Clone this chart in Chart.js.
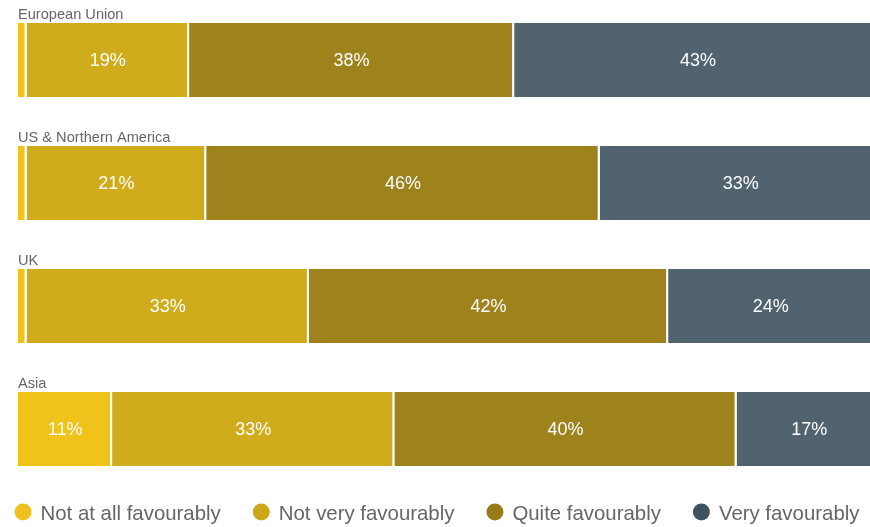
<!DOCTYPE html>
<html>
<head>
<meta charset="utf-8">
<title>Favourability by region</title>
<script src="https://cdn.jsdelivr.net/npm/chart.js@4.4.1/dist/chart.umd.min.js"></script>
<style>
  html, body { margin: 0; padding: 0; background: #ffffff; }
  #wrap { width: 870px; height: 527px; position: relative; overflow: hidden; }
</style>
</head>
<body>
<div id="wrap"><canvas id="chart" width="870" height="527"></canvas></div>
<script>
// Regions (one stacked bar each) and the answer categories
const regions = ['European Union', 'US & Northern America', 'UK', 'Asia'];
const seriesNames = ['Not at all favourably', 'Not very favourably', 'Quite favourably', 'Very favourably'];

// Share of respondents (%) per region
const notAtAll = [1, 1, 1, 11];
const notVery = [19, 21, 33, 33];
const quite = [38, 46, 42, 40];
const very = [43, 33, 24, 17];

const seriesValues = [notAtAll, notVery, quite, very];

// Colours
const barColors = ['#F0C31B', '#D0AB1B', '#9E831D', '#526370'];
const markerColors = ['#EFC11C', '#CDA71A', '#977B1A', '#405262'];

const FONT = '"Liberation Sans", Arial, Helvetica, sans-serif';

// Percentage labels in the middle of each segment, region names above each bar
const segmentLabels = {
  id: 'segmentLabels',
  afterDatasetsDraw(chart) {
    const ctx = chart.ctx;
    ctx.save();
    ctx.font = '18px ' + FONT;
    ctx.fillStyle = '#ffffff';
    ctx.textAlign = 'center';
    ctx.textBaseline = 'middle';
    chart.data.datasets.forEach((ds, di) => {
      chart.getDatasetMeta(di).data.forEach((bar, i) => {
        const v = ds.data[i];
        if (v < 5) return;
        ctx.fillText(v + '%', (bar.x + bar.base) / 2, bar.y + 1);
      });
    });
    // region names
    ctx.font = '14.6px ' + FONT;
    ctx.fillStyle = '#666666';
    ctx.textAlign = 'left';
    ctx.textBaseline = 'alphabetic';
    const first = chart.getDatasetMeta(0).data;
    first.forEach((bar, i) => {
      ctx.fillText(regions[i], chart.chartArea.left, bar.y - bar.height / 2 - 4);
    });
    ctx.restore();
  }
};

// Legend row with round markers, centred under the bars
const roundLegend = {
  id: 'roundLegend',
  afterDraw(chart) {
    const ctx = chart.ctx;
    ctx.save();
    ctx.font = '20.4px ' + FONT;
    const r = 8.5, textGap = 9, itemGap = 32;
    const widths = seriesNames.map(t => ctx.measureText(t).width);
    const total = widths.reduce((s, w) => s + 2 * r + textGap + w, 0) + itemGap * (seriesNames.length - 1);
    let x = chart.width / 2 - total / 2 + 2;
    const y = chart.height - 15;
    ctx.textBaseline = 'middle';
    ctx.textAlign = 'left';
    seriesNames.forEach((name, i) => {
      ctx.fillStyle = markerColors[i];
      ctx.beginPath();
      ctx.arc(x + r, y, r, 0, Math.PI * 2);
      ctx.fill();
      ctx.fillStyle = '#666666';
      ctx.fillText(name, x + 2 * r + textGap, y + 2);
      x += 2 * r + textGap + widths[i] + itemGap;
    });
    ctx.restore();
  }
};

new Chart(document.getElementById('chart'), {
  type: 'bar',
  data: {
    labels: regions,
    datasets: seriesValues.map((vals, i) => ({
      label: seriesNames[i],
      data: vals,
      backgroundColor: barColors[i],
      borderColor: '#ffffff',
      borderWidth: { left: 0, right: 2, top: 0, bottom: 0 },
      borderSkipped: false,
      inflateAmount: 0,
      barThickness: 74,
      clip: false
    }))
  },
  options: {
    indexAxis: 'y',
    responsive: false,
    animation: false,
    layout: { padding: { top: 60, bottom: 98, left: 18, right: 0 } },
    scales: {
      x: { stacked: true, min: 0, max: 99.6, display: false },
      y: { stacked: true, display: false, offset: false }
    },
    plugins: {
      legend: { display: false },
      tooltip: { enabled: false }
    }
  },
  plugins: [segmentLabels, roundLegend]
});
</script>
</body>
</html>
